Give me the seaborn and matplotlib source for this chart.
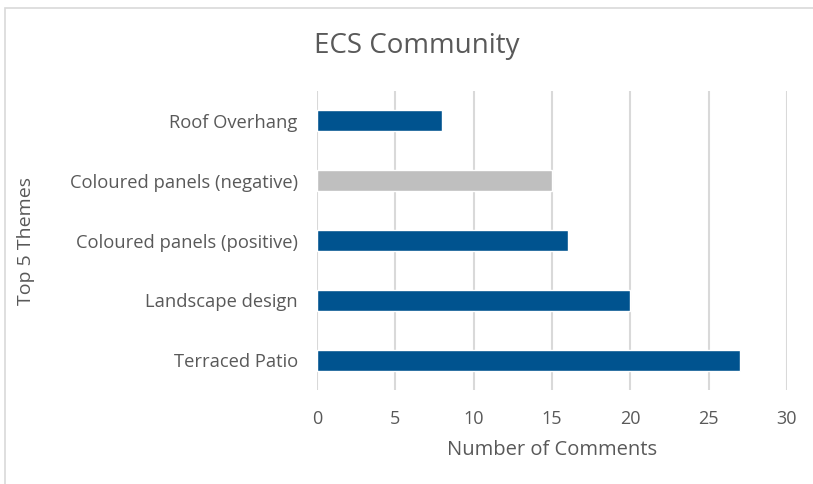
import matplotlib
matplotlib.use("Agg")
import matplotlib.pyplot as plt
from matplotlib.patches import Rectangle
import seaborn as sns
import pandas as pd

themes = ["Roof Overhang", "Coloured panels (negative)", "Coloured panels (positive)",
          "Landscape design", "Terraced Patio"]
comments = [8, 15, 16, 20, 27]
bar_colors = ["#00538F", "#BFBFBF", "#00538F", "#00538F", "#00538F"]
x_ticks = [0, 5, 10, 15, 20, 25, 30]

sns.set_theme(style="white")
plt.rcParams["font.family"] = ["Open Sans", "DejaVu Sans"]
text_color = "#595959"

df = pd.DataFrame({"theme": themes, "comments": comments})

fig = plt.figure(figsize=(8.13, 4.84), dpi=100)
ax = fig.add_axes([0.390, 0.194, 0.578, 0.618])

sns.barplot(data=df, x="comments", y="theme", hue="theme", order=themes,
            palette=dict(zip(themes, bar_colors)), width=0.35, legend=False,
            saturation=1, ax=ax, zorder=3)

ax.set_xlim(0, 30)
ax.set_xticks(x_ticks)
ax.set_xticklabels([str(t) for t in x_ticks])
ax.set_ylim(4.5, -0.5)
ax.xaxis.grid(True, color="#D9D9D9", linewidth=1.5, zorder=0)
ax.set_axisbelow(True)
for s in ax.spines.values():
    s.set_visible(False)
ax.tick_params(axis="x", length=0, labelsize=13, colors=text_color, pad=14)
ax.tick_params(axis="y", length=0, labelsize=13.2, colors=text_color, pad=14)

ax.set_xlabel("Number of Comments", fontsize=14.5, color=text_color, labelpad=9)
ax.set_ylabel("Top 5 Themes", fontsize=14, color=text_color)
ax.yaxis.set_label_coords(-0.60, 0.5)

fig.text(0.513, 0.905, "ECS Community", ha="center", va="center",
         fontsize=20, color=text_color)

# light frame around the chart area
fig.patches.append(Rectangle((5 / 813, -0.01), 1.0, 1 - 8 / 484 + 0.01,
                             transform=fig.transFigure, fill=False,
                             edgecolor="#D9D9D9", linewidth=1.2))

fig.savefig("out.png", dpi=100)
